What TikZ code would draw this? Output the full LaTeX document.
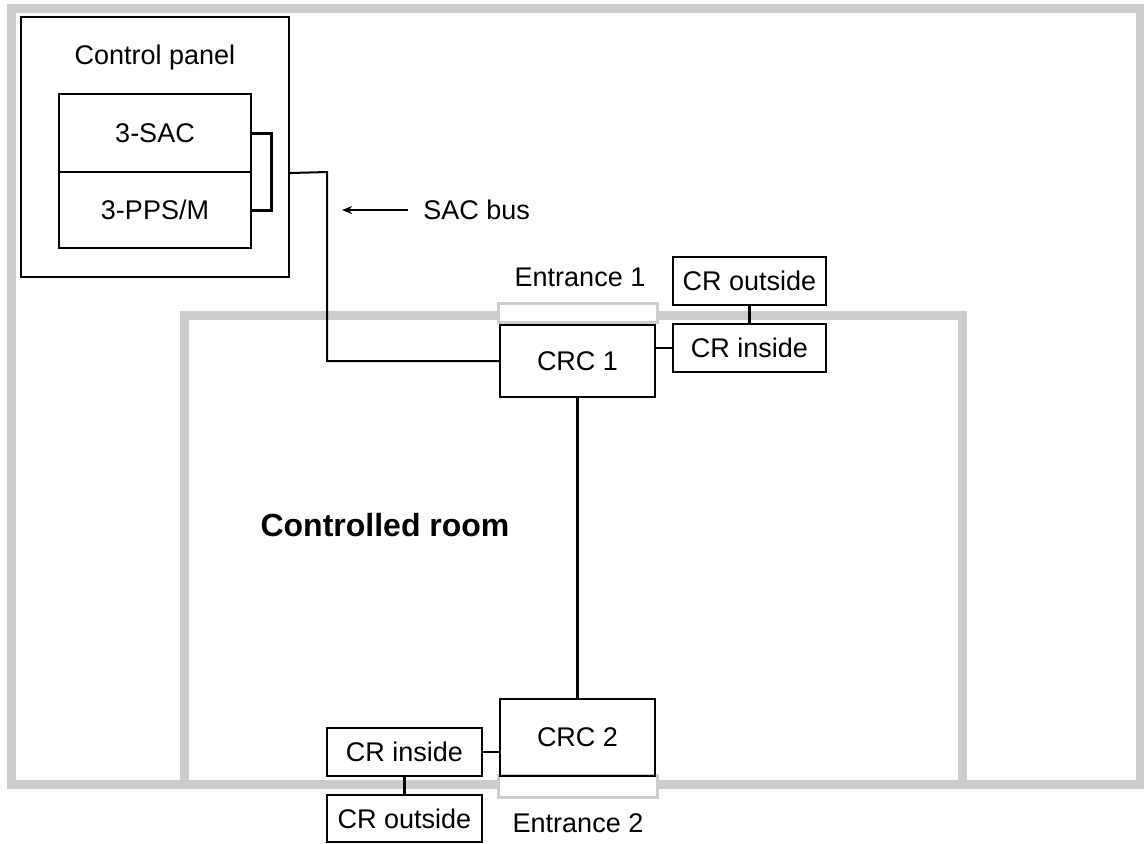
\documentclass[tikz,border=0pt]{standalone}
\usepackage{fontspec}
\setmainfont{Liberation Sans}
\usetikzlibrary{calc, positioning}
\usetikzlibrary{arrows.meta}

\begin{document}
\begin{tikzpicture}[x=0.5pt,y=-0.5pt,
  font=\fontsize{13.5}{16}\selectfont,
  wall/.style={draw=black!20,line width=4.5pt},
  door/.style={draw=black!20,line width=1.5pt,fill=white},
  unit/.style={draw,line width=1pt,inner sep=0pt,minimum width=77.5pt},
  wire/.style={line width=1pt},
  thickwire/.style={line width=1.5pt}]
\useasboundingbox (0,0) rectangle (1144,843);

\draw[wall] (11,8) rectangle (1140,784);
\draw[wall] (184.5,315.5) rectangle (962,784);
\foreach \ya/\yb in {303/322,775/797} {
  \draw[door] (498,\ya) rectangle (657,\yb);
}

\node[unit,minimum width=134pt,minimum height=130pt] (panel) at (155,147) {};
\node at (155,58) {Control panel};
\node[unit,minimum width=96pt,minimum height=39pt] (sac) at (155,133) {3-SAC};
\node[unit,minimum width=96pt,minimum height=38pt] (pps) at (155,210) {3-PPS/M};

\node[unit,minimum height=36pt] (crc1) at (577.5,361) {CRC 1};
\node[unit,minimum height=38.5pt] (crc2) at (577.5,737.5) {CRC 2};
\node[unit,minimum width=76.5pt,minimum height=24pt] (crin1) at (749.5,348) {CR inside};
\node[unit,minimum width=76.5pt,minimum height=24pt] (crout1) at (749.5,281) {CR outside};
\node[unit,minimum height=24pt] (crin2) at (404.5,752) {CR inside};
\node[unit,minimum height=23.5pt] (crout2) at (404.5,818.5) {CR outside};

\node at (580,277) {Entrance 1};
\node at (578,823) {Entrance 2};
\node[font=\fontsize{16}{19}\selectfont\bfseries] (room) at (385,525) {Controlled room};

\coordinate (bend) at (327,172);
\coordinate (bustip) at (342,210);
\node[anchor=west,inner sep=7.5pt] (bus) at (408,210) {SAC bus};

\draw[thickwire] (sac.east) -- ++(19,0) |- (pps.east);
\draw[wire] (sac.south -| panel.east) -- (bend) |- (crc1.west);
\draw[wire,-{Stealth[length=5pt,width=4pt,inset=1.5pt]}] (bus.west) -- (bustip);
\draw[thickwire] (crc1) -- (crc2);
\draw[wire] (crin1.west) -- (crin1.west -| crc1.east);
\draw[thickwire] (crout1) -- (crin1);
\draw[wire] (crin2.east) -- (crin2.east -| crc2.west);
\draw[thickwire] (crin2) -- (crout2);
\end{tikzpicture}
\end{document}
